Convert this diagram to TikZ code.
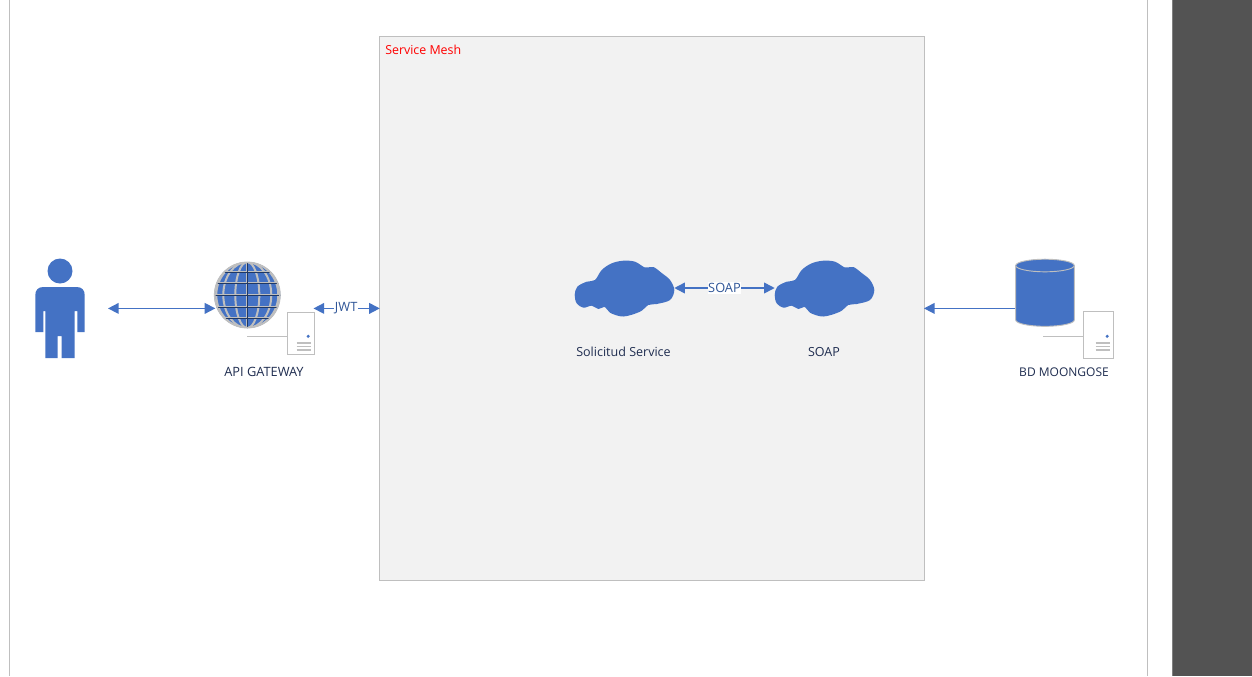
\documentclass[tikz,border=0pt]{standalone}
\usepackage{fontspec}
\setmainfont{Open Sans}
\usetikzlibrary{arrows.meta}
\definecolor{azure}{HTML}{4472C4}
\definecolor{edgegrey}{HTML}{BFBFBF}
\definecolor{meshfill}{HTML}{F2F2F2}
\definecolor{darkpanel}{HTML}{535353}
\definecolor{labelnavy}{HTML}{1F2D50}
\definecolor{linklabel}{HTML}{2F5597}
\definecolor{globeline}{HTML}{1F3864}
\tikzset{
  link/.style={azure,line width=1.2pt},
  twoway/.style={link,{Triangle[length=8pt,width=8pt]}-{Triangle[length=8pt,width=8pt]}},
  oneway/.style={link,-{Triangle[length=8pt,width=8pt]}},
  caption/.style={font=\fontsize{9.4}{11}\selectfont,text=labelnavy,inner sep=0pt,anchor=base},
  linktext/.style={font=\fontsize{9.6}{11}\selectfont,text=linklabel,fill=white,inner xsep=0.4pt,inner ysep=0.8pt},
  frameline/.style={draw=edgegrey,line width=0.6pt},
  servershape/.style={draw=edgegrey,fill=white,line width=0.75pt,inner sep=0pt},
}
\newcommand{\cloudicon}[2]{%
  \begin{scope}[shift={(#1,#2)}]
    \fill[azure] plot[smooth cycle,tension=0.55] coordinates {
      (-0.3,35) (2.3,26.7) (11.7,21.7) (20,20) (26.7,10) (36.7,3.3) (48.3,0.7)
      (60,1.7) (70,7.5) (78.3,7) (86.7,13) (95,20) (99.3,30) (95,40)
      (81.7,44) (73.3,45) (65,51.7) (48.3,56.5) (35,52.7) (30,47) (23.3,49)
      (16.7,45.7) (8.3,47.7) (1.7,43.3)};
  \end{scope}}
\newcommand{\servericon}[6]{%
  % left, top, right, bottom, line start, line y
  \draw[edgegrey,line width=0.75pt] (#5,#6) -- (#1,#6);
  \draw[servershape] (#1,#2) rectangle (#3,#4);
  \fill[azure] ({#3-6.3},{#6+0.3}) circle [radius=1.7];
  \foreach \dy in {7,10.5,14}{
    \draw[edgegrey,line width=0.9pt] ({#3-18},{#6+\dy}) -- ({#3-3.5},{#6+\dy});
  }}
\begin{document}
\begin{tikzpicture}[x=0.75pt,y=-0.75pt]
\useasboundingbox (0,0) rectangle (1252,676);
\fill[white] (0,0) rectangle (1252,676);
% page frame and side panel
\draw[frameline] (9.6,0) -- (9.6,676);
\draw[frameline] (1147.5,0) -- (1147.5,676);
\fill[darkpanel] (1172,0) rectangle (1252,676);
\draw[gray,line width=0.6pt] (1172.4,0) -- (1172.4,676);
% service mesh
\node[draw=edgegrey,fill=meshfill,line width=0.6pt,inner sep=0pt,minimum width=408.75pt,minimum height=408.2pt,anchor=north west] (mesh) at (378.8,35.9) {};
\node[anchor=west,font=\fontsize{9.3}{11}\selectfont,text=red,inner sep=0pt] (meshlabel) at (385,49.5) {Service Mesh};
% person
\fill[azure] (60,271) circle [radius=12.5];
\fill[azure] (35.3,332) -- (35.3,295) .. controls (35.3,290) and (38.3,287) .. (43.3,287) -- (76.7,287) .. controls (81.7,287) and (84.7,290) .. (84.7,295) -- (84.7,332) -- (77.3,332) -- (77.3,311) -- (74.7,311) -- (74.7,358) -- (61.7,358) -- (61.7,336) -- (57.7,336) -- (57.7,358) -- (45.3,358) -- (45.3,311) -- (43.3,311) -- (43.3,332) -- cycle;
\coordinate (personport) at (108,308.4);
% globe
\node[circle,minimum size=49.5pt,inner sep=0pt,fill=azure] (globe) at (247.3,295) {};
\begin{scope}
  \clip (247.3,295) circle [radius=33];
  \foreach \dy in {-23,-12,0,12,23}{
    \draw[edgegrey,line width=1.5pt] (210,295+\dy) -- (285,295+\dy);
  }
  \foreach \rx in {12,24,31}{
    \draw[edgegrey,line width=1.5pt] (247.3,295) circle [x radius=\rx,y radius=33];
  }
  \draw[edgegrey,line width=1.5pt] (247.3,260) -- (247.3,330);
  \foreach \dy in {-23,-12,0,12,23}{
    \draw[globeline,line width=0.4pt] (210,295+\dy) -- (285,295+\dy);
  }
  \draw[globeline,line width=0.5pt] (247.3,260) -- (247.3,330);
\end{scope}
\draw[edgegrey,line width=1.2pt] (247.3,295) circle [radius=32.6];
\servericon{287.5}{312.3}{314.5}{354.5}{247}{336}
\node[caption,font=\fontsize{9.6}{11}\selectfont] (apilabel) at (264,376.2) {API GATEWAY};
% clouds
\cloudicon{575}{260}
\cloudicon{775}{260}
\node[inner sep=0pt,minimum width=75pt,minimum height=42pt] (solicitud) at (624,288) {};
\node[inner sep=0pt,minimum width=75pt,minimum height=42pt] (soap) at (825,288) {};
\node[caption] (sollabel) at (623.5,356.2) {Solicitud Service};
\node[caption] (soaplabel) at (824,356.2) {SOAP};
% database
\fill[azure] (1015.7,265) -- (1015.7,320) arc[start angle=180,end angle=0,x radius=29.3,y radius=6.3] -- (1074.3,265) -- cycle;
\draw[edgegrey,line width=0.7pt] (1015.7,265.5) -- (1015.7,320) arc[start angle=180,end angle=0,x radius=29.3,y radius=6.3] -- (1074.3,265.5);
\draw[edgegrey,fill=azure,line width=0.7pt] (1045,265.5) circle [x radius=29.3,y radius=6.3];
\node[inner sep=0pt,minimum width=44pt,minimum height=50pt] (db) at (1045,292.5) {};
\servericon{1083.5}{311.5}{1113.5}{358.5}{1043}{336}
\node[caption,font=\fontsize{9}{11}\selectfont] (dblabel) at (1064,376.2) {BD MOONGOSE};
% connectors
\draw[twoway,shorten >=-1pt] (personport) -- (globe.west |- personport);
\coordinate (gatewayport) at (313.5,308.4);
\draw[twoway,shorten >=-0.75pt] (gatewayport) -- node[linktext] (jwt) {JWT} (mesh.west |- gatewayport);
\draw[twoway] (solicitud.east) -- node[linktext] (soaplink) {SOAP} (soap.west);
\draw[oneway,shorten >=-0.5pt] (db.west |- 0,308.4) -- (mesh.east |- 0,308.4);
\end{tikzpicture}
\end{document}
